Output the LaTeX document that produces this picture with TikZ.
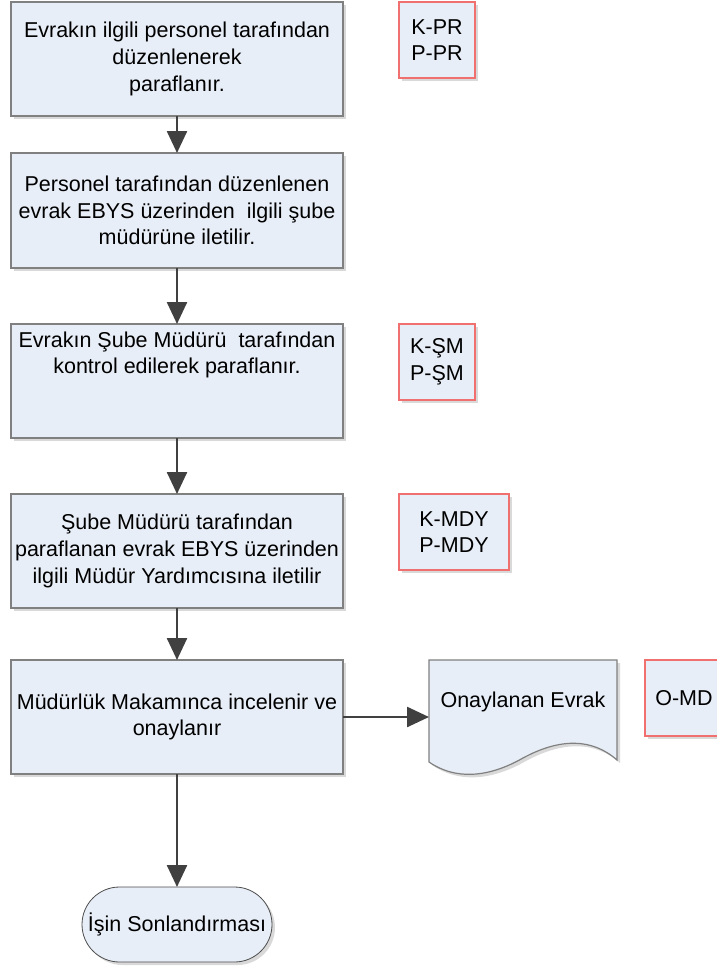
\documentclass[tikz,border=0pt]{standalone}
\usepackage{fontspec}
\setmainfont{Liberation Sans}
\usetikzlibrary{arrows.meta,shadows}
\definecolor{boxfill}{RGB}{232,238,247}
\definecolor{boxline}{RGB}{128,128,128}
\definecolor{redline}{RGB}{240,112,112}
\definecolor{arrowc}{RGB}{64,64,64}
\begin{document}
\begin{tikzpicture}[x=1pt,y=-1pt,
  every node/.style={font=\fontsize{21.5}{26.7}\selectfont, inner sep=0pt, outer sep=0pt},
  shadowed/.style={drop shadow={shadow xshift=3pt, shadow yshift=-3pt, fill=black, opacity=0.15}},
  procbox/.style={draw=boxline, line width=1.2pt, fill=boxfill, minimum width=332pt, minimum height=114pt, align=center, shadowed},
  tagbox/.style={draw=redline, line width=1.2pt, fill=boxfill, minimum height=76pt, align=center, shadowed},
  flow/.style={draw=arrowc, line width=2.5pt, -{Triangle[length=22pt,width=20pt]}}
]
\useasboundingbox (0,0) rectangle (716,966);

\node[procbox] (b1) at (177,59) {Evrakın ilgili personel tarafından\\düzenlenerek\\ paraflanır.};
\node[procbox, minimum height=115pt] (b2) at (177,210.5) {Personel tarafından düzenlenen\\evrak EBYS üzerinden~ ilgili şube\\müdürüne iletilir.};
\node[procbox] (b3) at (177,381) {};
\node[align=center] (b3t) at (177,355) {Evrakın Şube Müdürü~ tarafından\\kontrol edilerek paraflanır.};
\node[procbox] (b4) at (177,551) {Şube Müdürü tarafından\\paraflanan evrak EBYS üzerinden\\ilgili Müdür Yardımcısına iletilir};
\node[procbox] (b5) at (177,717) {Müdürlük Makamınca incelenir ve\\onaylanır};

\node[draw=black!70, line width=0.8pt, fill=boxfill, minimum width=190pt, minimum height=75pt, rounded corners=37.5pt, shadowed] (term) at (177,924.5) {İşin Sonlandırması};

\node[tagbox, minimum width=76pt] (t1) at (437,40) {K-PR\\P-PR};
\node[tagbox, minimum width=76pt] (t2) at (437,362) {K-ŞM\\P-ŞM};
\node[tagbox, minimum width=110pt] (t3) at (454,532) {K-MDY\\P-MDY};
\node[tagbox, minimum width=78pt] (t4) at (684,698) {O-MD};

% document shape
\node[minimum width=188pt, minimum height=100pt] (docbox) at (523,710) {};
\filldraw[draw=boxline, line width=1.2pt, fill=boxfill, shadowed]
  (429,660) -- (617,660) -- (617,760)
  .. controls (592,738) and (560,738) .. (523,758)
  .. controls (488,778) and (455,780) .. (429,762) -- cycle;
\node (doctext) at (523,702) {Onaylanan Evrak};

\draw[flow] (b1) -- (b2);
\draw[flow] (b2) -- (b3);
\draw[flow] (b3) -- (b4);
\draw[flow] (b4) -- (b5);
\draw[flow] (b5) -- (term);
\draw[flow] (b5.east) -- (b5.east -| docbox.west);
\end{tikzpicture}
\end{document}
